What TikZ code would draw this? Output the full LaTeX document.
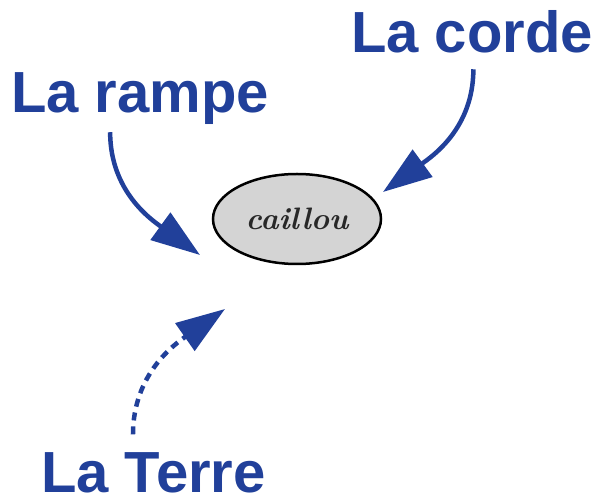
\documentclass[tikz,border=0pt]{standalone}
\usepackage{fontspec}
\setsansfont{Liberation Sans}
\usetikzlibrary{shapes.geometric,arrows.meta}
\definecolor{forceblue}{RGB}{33, 64, 154}
\definecolor{pebblegrey}{RGB}{212, 212, 212}
\definecolor{pebbleink}{RGB}{40, 40, 40}

\begin{document}
\begin{tikzpicture}[x=1pt,y=1pt,
    forcelabel/.style={font=\fontsize{58}{62}\selectfont\sffamily\bfseries, text=forceblue, inner sep=0pt, anchor=base west},
    forcearrow/.style={draw=forceblue, line width=4.5pt, -{Triangle[length=49pt,width=33pt]}}]
\useasboundingbox (0,0) rectangle (598,501);
% The pebble
\node[ellipse, draw, line width=2.5pt, fill=pebblegrey, minimum width=168pt, minimum height=90pt, inner sep=0pt,
      text=pebbleink, font=\fontsize{31}{34}\selectfont\bfseries\itshape] (pebble) at (297,282) {caillou};
% The forces
\node[forcelabel] (rampe) at (11,388) {La rampe};
\node[forcelabel] (corde) at (351,448) {La corde};
\node[forcelabel] (terre) at (41,8) {La Terre};
\coordinate (rampetip) at (200,246);
\coordinate (cordetip) at (383,309);
\coordinate (terretip) at (225,192);
\draw[forcearrow] ([xshift=-30pt,yshift=-7pt]rampe.south) to[out=-90,in=144] (rampetip);
\draw[forcearrow] ([xshift=1.3pt,yshift=-15.5pt]corde.south) to[out=-90,in=36] (cordetip);
\draw[forcearrow, dash pattern=on 8pt off 6pt] ([xshift=-20.5pt,yshift=18.5pt]terre.north) to[out=90,in=215] (terretip);
\end{tikzpicture}
\end{document}
